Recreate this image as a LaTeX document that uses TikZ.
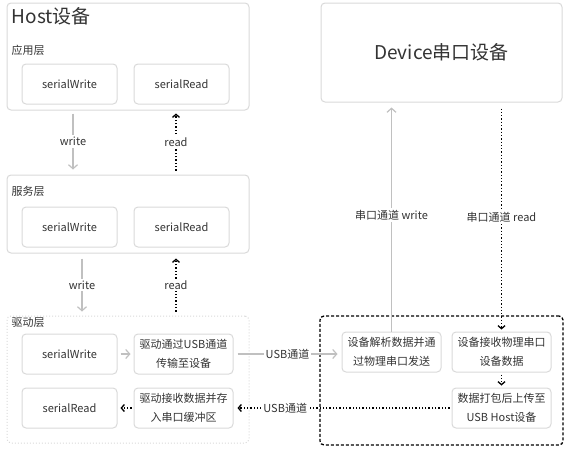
\documentclass[tikz,border=0pt]{standalone}
\usepackage{fontspec}
\setmainfont{Noto Sans CJK SC}
\usetikzlibrary{arrows.meta}
\definecolor{BoxGray}{HTML}{D9D9D9}
\definecolor{LineGray}{HTML}{C0C0C0}
\definecolor{TextGray}{HTML}{333333}

\begin{document}
\begin{tikzpicture}[x=1pt,y=-1pt,
  every node/.style={text=TextGray,font=\fontsize{11}{19}\selectfont},
  layer/.style={draw=BoxGray,line width=1pt,rounded corners=4pt,minimum width=242pt,inner sep=0pt},
  unit/.style={draw=BoxGray,line width=1pt,rounded corners=4pt,minimum width=95pt,minimum height=40pt,align=center,inner sep=0pt},
  wide/.style={unit,minimum width=99pt},
  caption/.style={anchor=west,inner sep=0pt},
  big/.style={font=\fontsize{19}{23}\selectfont},
  grayarrow/.style={draw=LineGray,line width=1.2pt,-{Straight Barb[length=4pt,width=9pt]}},
  dotarrow/.style={draw=black,line width=1.3pt,dotted,-{Straight Barb[length=3pt,width=7pt]}},
  tag/.style={fill=white,inner sep=2pt}]
\useasboundingbox (0,0) rectangle (569,453);

\node[layer,minimum height=107pt] (host) at (128,56.5) {};
\node[caption,big] (hosttitle) at ([xshift=5pt,yshift=-14pt]host.north west) {Host设备};
\node[caption] (applabel) at ([xshift=5pt,yshift=-48pt]host.north west) {应用层};
\node[unit] (appwrite) at (69.5,84) {serialWrite};
\node[unit] (appread) at (181.5,84) {serialRead};

\node[layer,minimum height=78pt] (svc) at (128,214) {};
\node[caption] (svclabel) at ([xshift=5pt,yshift=-17pt]svc.north west) {服务层};
\node[unit] (svcwrite) at (69.5,227) {serialWrite};
\node[unit] (svcread) at (181.5,227) {serialRead};

\node[layer,dash pattern=on 1pt off 2pt,minimum height=127pt] (drv) at (128,379.5) {};
\node[caption] (drvlabel) at ([xshift=5pt,yshift=-7pt]drv.north west) {驱动层};
\node[unit] (drvwrite) at (69.5,354) {serialWrite};
\node[wide] (sendusb) at (183.5,354) {驱动通过USB通道\\传输至设备};
\node[unit] (drvread) at (69.5,408) {serialRead};
\node[wide] (recvusb) at (183.5,408) {驱动接收数据并存\\入串口缓冲区};

\node[layer,big,minimum width=241pt,minimum height=99pt] (dev) at (441.5,52.5) {Device串口设备};
\node[draw=black,line width=1.3pt,dash pattern=on 3pt off 2pt,rounded corners=4pt,minimum width=243pt,minimum height=129pt,inner sep=0pt] (devbox) at (441.5,380.5) {};
\node[wide] (parse) at (391.5,352) {设备解析数据并通\\过物理串口发送};
\node[wide] (phys) at (501.5,352) {设备接收物理串口\\设备数据};
\node[wide] (upload) at (501.5,408) {数据打包后上传至\\USB Host设备};

\draw[grayarrow] ([xshift=-55pt,yshift=-3pt]host.south) -- ([xshift=-55pt,yshift=5pt]svc.north) node[midway,tag] {write};
\draw[dotarrow] ([xshift=48pt,yshift=4pt]svc.north) -- ([xshift=48pt,yshift=-3pt]host.south) node[midway,tag] {read};
\draw[grayarrow] ([xshift=-46pt,yshift=-5pt]svc.south) -- ([xshift=-46pt,yshift=4pt]drv.north) node[midway,tag] {write};
\draw[dotarrow] ([xshift=48pt,yshift=4pt]drv.north) -- ([xshift=48pt,yshift=-5pt]svc.south) node[midway,tag] {read};

\draw[grayarrow] ([xshift=3pt]drvwrite.east) -- ([xshift=-3pt]sendusb.west);
\draw[dotarrow] ([xshift=-2pt]recvusb.west) -- ([xshift=3pt]drvread.east);

\draw[grayarrow] ([xshift=4pt]sendusb.east) -- ([xshift=-4pt]sendusb.east -| parse.west) node[midway,tag] {USB通道};
\draw[dotarrow] ([xshift=-2pt]upload.west) -- ([xshift=4pt]recvusb.east) node[pos=0.775,tag] {USB通道};

\draw[grayarrow] (parse.north) -- ([yshift=-5pt]parse.north |- dev.south) node[pos=0.52,tag] {串口通道 write};
\draw[dotarrow] ([yshift=-6pt]phys.north |- dev.south) -- ([yshift=2pt]phys.north) node[pos=0.49,tag] {串口通道 read};
\draw[dotarrow] ([yshift=-2pt]phys.south) -- ([yshift=2pt]upload.north);
\end{tikzpicture}
\end{document}
